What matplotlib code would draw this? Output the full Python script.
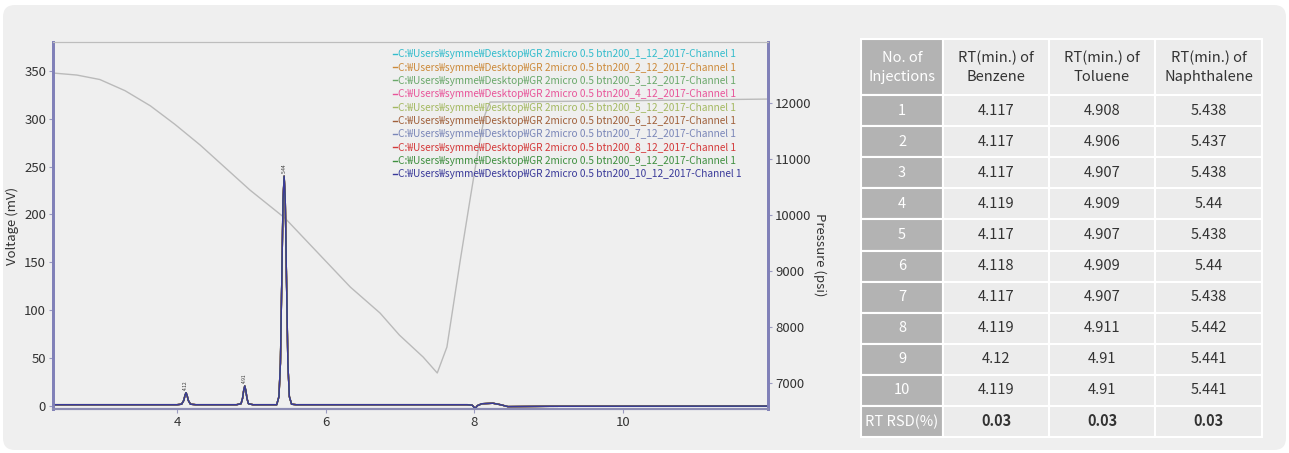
import numpy as np
import matplotlib.pyplot as plt
from matplotlib.patches import FancyBboxPatch

plt.rcParams['font.family'] = ['Noto Sans CJK KR', 'DejaVu Sans']
plt.rcParams['font.weight'] = 'light'

#----- chromatogram trace (min, mV) -----#
time_min = [2.33, 4.00, 4.06, 4.09, 4.105, 4.12, 4.135, 4.15, 4.18, 4.25,
            4.80, 4.86, 4.88, 4.895, 4.91, 4.925, 4.94, 4.96, 5.02,
            5.34, 5.37, 5.39, 5.41, 5.425, 5.44, 5.455, 5.47, 5.49, 5.51, 5.54, 5.60,
            7.90, 7.97, 8.01, 8.04, 8.10, 8.25, 8.35, 8.45, 9.00, 11.95]
voltage_mv = [1.5, 1.5, 2.0, 6.0, 11.0, 14.0, 11.0, 6.0, 2.0, 1.5,
              1.5, 2.5, 8.0, 16.0, 21.0, 16.0, 8.0, 2.5, 1.5,
              1.5, 10.0, 45.0, 140.0, 215.0, 240.0, 215.0, 140.0, 45.0, 10.0, 2.0, 1.5,
              1.5, 1.0, -2.5, 0.5, 2.5, 3.0, 1.5, -0.5, -0.2, 0.0]

#----- pressure trace (min, psi) -----#
p_time = [2.33, 2.65, 2.96, 3.30, 3.64, 3.97, 4.31, 4.98, 5.45, 6.33, 6.73, 6.99, 7.31, 7.50,
          7.63, 7.81, 7.94, 8.05, 8.14, 8.21, 9.69, 11.95]
pressure_psi = [12536, 12500, 12420, 12220, 11950, 11620, 11250, 10446, 9946, 8714, 8250, 7857, 7464, 7179,
                7643, 9196, 10268, 11161, 11786, 12018, 12036, 12071]

#----- retention time table -----#
injections = ['1', '2', '3', '4', '5', '6', '7', '8', '9', '10']
benzene_rt = [4.117, 4.117, 4.117, 4.119, 4.117, 4.118, 4.117, 4.119, 4.12, 4.119]
toluene_rt = [4.908, 4.906, 4.907, 4.909, 4.907, 4.909, 4.907, 4.911, 4.91, 4.91]
naphthalene_rt = [5.438, 5.437, 5.438, 5.44, 5.438, 5.44, 5.438, 5.442, 5.441, 5.441]
rsd = ['0.03', '0.03', '0.03']
peak_heights = [14.0, 21.0, 240.0]

run_colors = ['#33bccc', '#cc8a3a', '#6aa86a', '#e8559a', '#a4b860',
              '#a0603a', '#7a86b8', '#d43a3a', '#3f8f3f', '#3a3a9a']
run_names = ['C:₩Users₩symme₩Desktop₩GR 2micro 0.5 btn200_%d_12_2017-Channel 1' % i
             for i in range(1, 11)]

fig = plt.figure(figsize=(12.89, 4.53), dpi=100)
fig.patch.set_facecolor('white')
fig.patches.append(FancyBboxPatch((0.03, 0.03), 12.83, 4.45,
                                  boxstyle='round,pad=0,rounding_size=0.12',
                                  transform=fig.dpi_scale_trans,
                                  fc='#efefef', ec='none', zorder=-5))

#------- chromatogram axes -------#
ax = fig.add_axes([53/1289, 1 - 409/453, 715/1289, 367/453])
ax.set_facecolor('none')
ax2 = ax.twinx()
ax2.plot(p_time, pressure_psi, color='#bababa', lw=1.0)
ax2.set_ylim(6536, 13090)
ax2.set_yticks(np.arange(7000, 12001, 1000))

ax.set_zorder(ax2.get_zorder() + 1)
for i in range(10):
    ax.plot(time_min, voltage_mv, color=run_colors[i], lw=1.0, label=run_names[i])

# retention time labels over the peaks (first injection)
for rt, h in zip([benzene_rt[0], toluene_rt[0], naphthalene_rt[0]], peak_heights):
    ax.text(rt, h + 3, '%.2f' % rt, rotation=90, ha='center', va='bottom',
            fontsize=3.5, color='#333333')

ax.set_xlim(2.33, 11.95)
ax.set_ylim(-3, 380)
ax.set_xticks([4, 6, 8, 10])
ax.set_yticks(np.arange(0, 351, 50))
ax.set_ylabel('Voltage (mV)', fontsize=9.5, color='#333333', labelpad=4)

for a in (ax, ax2):
    a.tick_params(labelsize=9.5, labelcolor='#333333', length=3, width=0.8, color='#9a9ac0', pad=2)
    a.spines['top'].set_color('#bdbdbd')
    a.spines['left'].set_color('#8080b8')
    a.spines['left'].set_linewidth(2)
    a.spines['right'].set_color('#8080b8')
    a.spines['right'].set_linewidth(2)
    a.spines['bottom'].set_color('#8c8cb4')
    a.spines['bottom'].set_linewidth(1.5)

ax2.set_ylabel('Pressure (psi)', fontsize=9.5, color='#333333', rotation=270)
ax2.yaxis.set_label_coords(1.072, 0.42)
ax2.yaxis.label.set_va('center')

ax.legend(loc='upper left', bbox_to_anchor=(0.476, 0.98), frameon=False,
          fontsize=7.3, handlelength=0.35, handletextpad=0.1, borderpad=0,
          borderaxespad=0, labelspacing=0.33, labelcolor='linecolor')

#------- table -------#
tax = fig.add_axes([861/1289, 1 - 437/453, 401/1289, 398/453])
tax.axis('off')
header = ['No. of\nInjections', 'RT(min.) of\nBenzene', 'RT(min.) of\nToluene', 'RT(min.) of\nNaphthalene']
rows = [header]
for i in range(10):
    rows.append([injections[i], str(benzene_rt[i]), str(toluene_rt[i]), str(naphthalene_rt[i])])
rows.append(['RT RSD(%)'] + rsd)

tbl = tax.table(cellText=rows, cellLoc='center', bbox=[0, 0, 1, 1])
tbl.auto_set_font_size(False)
col_w = [82, 106, 106, 107]
for (r, c), cell in tbl.get_celld().items():
    cell.set_width(col_w[c])
    cell.set_height(56 if r == 0 else 31)
    cell.set_edgecolor('white')
    cell.set_linewidth(1.5)
    txt = cell.get_text()
    txt.set_fontsize(10.5)
    txt.set_linespacing(1.45)
    if c == 0:
        cell.set_facecolor('#b3b3b3')
        txt.set_color('white')
    else:
        cell.set_facecolor('#ececec')
        txt.set_color('#333333')
        if r == 11:
            txt.set_fontweight('bold')

fig.savefig('out.png', dpi=100, facecolor=fig.get_facecolor())
